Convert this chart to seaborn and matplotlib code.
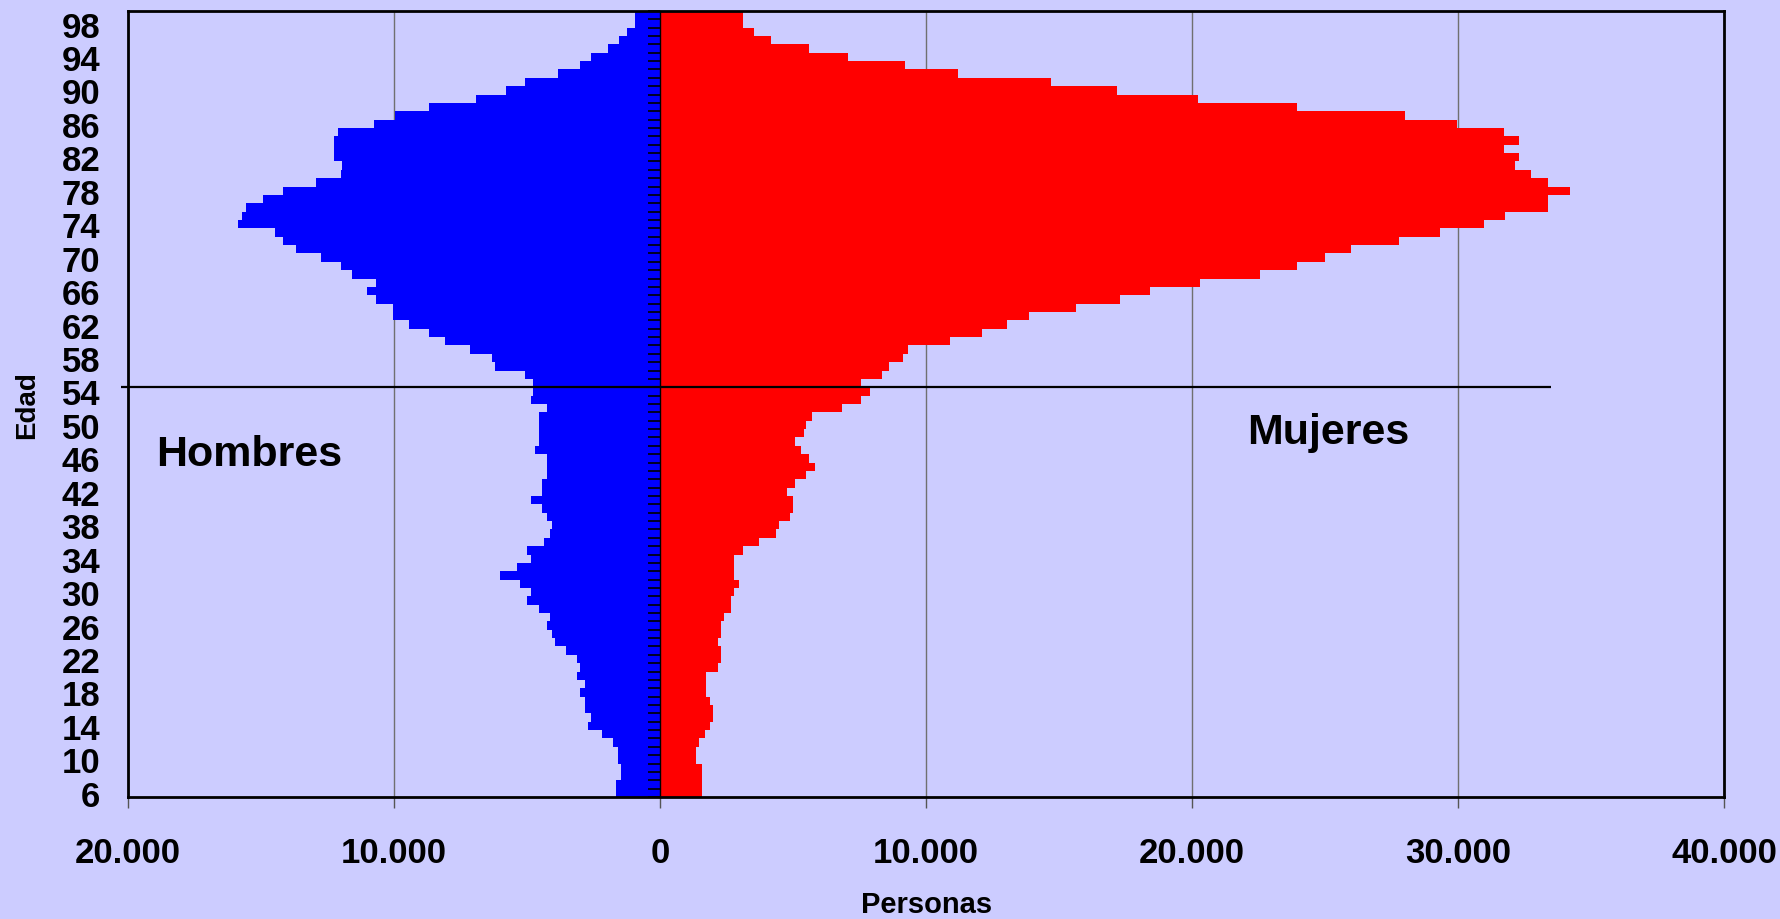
import matplotlib
matplotlib.use('Agg')
import matplotlib.pyplot as plt
import seaborn as sns
import pandas as pd
import numpy as np

# ages top to bottom (99 .. 6)
ages = list(range(99, 5, -1))

hombres = [955, 955, 1260, 1560, 1965, 2600, 3020, 3845, 5090, 5810,
           6935, 8700, 9955, 10760, 12120, 12240, 12240, 12240, 11940, 12005,
           12945, 14190, 14910, 15550, 15730, 15850, 14490, 14190, 13670, 12760,
           12005, 11600, 10695, 11000, 10695, 10055, 10055, 9455, 8700, 8095,
           7155, 6330, 6210, 5090, 4785, 4785, 4870, 4265, 4565, 4565,
           4565, 4565, 4685, 4265, 4265, 4265, 4450, 4450, 4870, 4450,
           4265, 4045, 4145, 4380, 4985, 4870, 5390, 6030, 5270, 4870,
           4985, 4565, 4145, 4265, 4045, 3960, 3545, 3140, 3020, 3140,
           2805, 3020, 2805, 2805, 2600, 2720, 2200, 1780, 1580, 1580,
           1480, 1480, 1660, 1660]

mujeres = [3120, 3120, 3530, 4175, 5590, 7055, 9215, 11210, 14710, 17185,
           20210, 23930, 27985, 29950, 31705, 32305, 31705, 32305, 32135, 32735,
           33360, 34200, 33360, 33360, 31775, 30960, 29305, 27770, 25990, 24985,
           23930, 22560, 20305, 18430, 17305, 15650, 13850, 13055, 12095, 10895,
           9310, 9145, 8615, 8350, 7535, 7895, 7535, 6840, 5710, 5470,
           5400, 5065, 5305, 5590, 5830, 5470, 5065, 4775, 4990, 4990,
           4870, 4460, 4340, 3735, 3100, 2795, 2795, 2795, 2980, 2795,
           2680, 2680, 2395, 2280, 2280, 2160, 2280, 2280, 2160, 1740,
           1740, 1740, 1860, 1975, 1975, 1860, 1675, 1455, 1340, 1340,
           1560, 1560, 1560, 1560]

xtick_values = [-20000, -10000, 0, 10000, 20000, 30000, 40000]
xtick_labels = ['20.000', '10.000', '0', '10.000', '20.000', '30.000', '40.000']
ytick_ages = list(range(98, 5, -4))

bg = '#CCCCFF'

sns.set_theme(style='white')
plt.rcParams['font.family'] = ['Liberation Sans', 'DejaVu Sans']
plt.rcParams['font.weight'] = 'bold'

df = pd.DataFrame({
    'edad': ages,
    'hombres': [-v for v in hombres],
    'mujeres': mujeres,
})

fig = plt.figure(figsize=(17.81, 9.2), dpi=100, facecolor=bg)
ax = fig.add_axes([0.0719, 0.1326, 0.8962, 0.8544])
ax.set_facecolor(bg)

sns.barplot(data=df, x='hombres', y='edad', order=ages, orient='h',
            color='#0000FF', saturation=1, width=1, linewidth=0, ax=ax)
sns.barplot(data=df, x='mujeres', y='edad', order=ages, orient='h',
            color='#FF0000', saturation=1, width=1, linewidth=0, ax=ax)

# divider line between 54 and 55
y_line = (ages.index(55) + ages.index(54)) / 2
ax.hlines(y_line, -20250, 33500, color='black', lw=1.6, clip_on=False, zorder=5)

# x axis
ax.set_xlim(-20000, 40000)
ax.set_ylim(len(ages) - 0.5, -0.5)
ax.set_xticks(xtick_values, xtick_labels)
ax.tick_params(axis='x', bottom=True, length=8, width=1, color='#555555',
               direction='out', pad=20, labelsize=25, labelcolor='black')
ax.grid(axis='x', color='#707070', lw=1)
ax.grid(axis='y', visible=False)
ax.set_axisbelow(True)

# y axis: labels every 4 years on the left edge
ax.set_yticks([ages.index(a) for a in ytick_ages], [str(a) for a in ytick_ages])
ax.tick_params(axis='y', left=False, length=0, pad=20, labelsize=25,
               labelcolor='black')

for side in ['left', 'right', 'top', 'bottom']:
    ax.spines[side].set_color('black')
    ax.spines[side].set_linewidth(2)

# category tick marks on the zero line
sec = ax.secondary_yaxis(0, transform=ax.transData)
sec.set_yticks([])
sec.set_yticks(np.arange(len(ages) + 1) - 0.5, minor=True)
sec.tick_params(which='minor', left=True, length=8.5, width=1.2, color='black',
                direction='out')
sec.spines['left'].set_color('black')
sec.spines['left'].set_linewidth(1)
sec.set_zorder(4)

ax.text(0.0758, 0.436, 'Hombres', transform=ax.transAxes, ha='center', va='center',
        fontsize=31, fontweight='bold', color='black')
ax.text(0.752, 0.464, 'Mujeres', transform=ax.transAxes, ha='center', va='center',
        fontsize=31, fontweight='bold', color='black')

ax.set_xlabel('Personas', fontsize=21, fontweight='bold', color='black')
ax.xaxis.set_label_coords(0.5, -0.118)
ax.set_ylabel('Edad', fontsize=20, fontweight='bold', color='black')
ax.yaxis.set_label_coords(-0.055, 0.5)

fig.savefig('out.png', dpi=100, facecolor=bg)
